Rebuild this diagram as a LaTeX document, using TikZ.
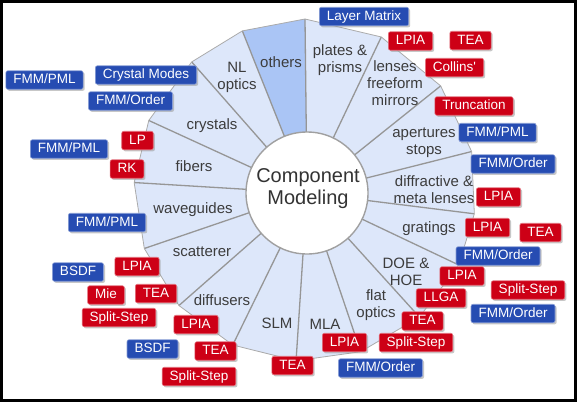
\documentclass[tikz,border=0pt]{standalone}
\usepackage{fontspec}
\setmainfont{Liberation Sans}
\usetikzlibrary{shadows}
\definecolor{sect}{RGB}{221,231,250}
\definecolor{sectdark}{RGB}{170,197,245}
\definecolor{spokecol}{RGB}{150,150,150}
\definecolor{bblue}{RGB}{38,76,178}
\definecolor{bred}{RGB}{205,0,22}
\definecolor{lbl}{RGB}{60,60,60}
\tikzset{
  tag/.style={rounded corners=2pt, inner xsep=7.5pt, inner ysep=0pt,
    minimum height=18.5pt, text height=10pt, text depth=2.6pt, text=white,
    line width=0.6pt, font=\fontsize{13.5}{14}\selectfont,
    drop shadow={shadow xshift=1.6pt, shadow yshift=-1.6pt, fill=black!40, opacity=0.55}},
  bluetag/.style={tag, fill=bblue, draw=bblue!55!white},
  redtag/.style={tag, fill=bred, draw=bred!55!white},
  sectlabel/.style={text=lbl, font=\fontsize{15}{17}\selectfont, align=center, inner sep=0pt},
  spokeline/.style={draw=spokecol, line width=1.3pt},
}
\begin{document}
\begin{tikzpicture}[x=1pt, y=-1pt]
\useasboundingbox (0,0) rectangle (577,402);
\fill[white] (0,0) rectangle (577,402);
% wheel
\begin{scope}[shift={(305,190)}, yscale=-1]
  \fill[sect] (90:171) -- (63.5:171) -- (37.5:171) -- (13:171) -- (-8:171) -- (-26:171) -- (-48:171) -- (-71:171) -- (-93:171) -- (-115:171) -- (-137.5:171) -- (-160:171) -- (177.5:171) -- (156:171) -- (131.5:171) -- (111.5:171) -- cycle;
  \fill[sectdark] (2,-3) -- (111.5:171) -- (90:171) -- cycle;
  \foreach \a in {90,63.5,37.5,13,-8,-26,-48,-71,-93,-115,-137.5,-160,177.5,156,131.5,111.5}
    \draw[spokeline] (2,-3) -- (\a:171);
  \draw[spokecol!80, line width=0.8pt] (90:171) -- (63.5:171) -- (37.5:171) -- (13:171) -- (-8:171) -- (-26:171) -- (-48:171) -- (-71:171) -- (-93:171) -- (-115:171) -- (-137.5:171) -- (-160:171) -- (177.5:171) -- (156:171) -- (131.5:171) -- (111.5:171) -- cycle;
\end{scope}
\node[circle, fill=white, draw=spokecol!90, line width=1.4pt, minimum size=122pt, inner sep=0pt] (hub) at (307,193) {};
\node[text=black!80, font=\fontsize{20}{22}\selectfont, align=center, inner sep=0pt] (title) at (308,189) {Component\\Modeling};
% sector labels
\node[sectlabel] (others) at (281,62) {others};
\node[sectlabel] (nl) at (237,77) {NL\\optics};
\node[sectlabel] (crystals) at (212,126) {crystals};
\node[sectlabel] (fibers) at (194,166) {fibers};
\node[sectlabel] (waveguides) at (193,210) {waveguides};
\node[sectlabel] (scatterer) at (202,252) {scatterer};
\node[sectlabel] (diffusers) at (222,300) {diffusers};
\node[sectlabel] (slm) at (277,323) {SLM};
\node[sectlabel] (mla) at (325,324) {MLA};
\node[sectlabel] (flat) at (376,305) {flat\\optics};
\node[sectlabel] (doe) at (406,272) {DOE \&\\HOE};
\node[sectlabel] (gratings) at (429,229) {gratings};
\node[sectlabel] (diffr) at (434,190) {diffractive \&\\meta lenses};
\node[sectlabel] (apert) at (424,143) {apertures\\stops};
\node[sectlabel] (lenses) at (395,83) {lenses\\freeform\\mirrors};
\node[sectlabel] (plates) at (340,60) {plates \&\\prisms};
% blue tags
\node[bluetag] (b1) at (44.5,80) {FMM/PML};
\node[bluetag] (b2) at (146,75) {Crystal Modes};
\node[bluetag] (b3) at (130.5,101) {FMM/Order};
\node[bluetag] (b4) at (69,149) {FMM/PML};
\node[bluetag] (b5) at (364,16.5) {Layer Matrix};
\node[bluetag] (b6) at (497.5,132.5) {FMM/PML};
\node[bluetag] (b7) at (513,164) {FMM/Order};
\node[bluetag] (b8) at (498,256) {FMM/Order};
\node[bluetag] (b9) at (513,313.5) {FMM/Order};
\node[bluetag] (b10) at (380.5,368) {FMM/Order};
\node[bluetag] (b11) at (107,222.5) {FMM/PML};
\node[bluetag] (b12) at (78,272) {BSDF};
\node[bluetag] (b13) at (152.5,349) {BSDF};
% red tags
\node[redtag] (r1) at (137.5,140.5) {LP};
\node[redtag] (r2) at (127,169) {RK};
\node[redtag] (r3) at (410.5,41) {LPIA};
\node[redtag] (r4) at (470.5,40.5) {TEA};
\node[redtag] (r5) at (454.5,67.5) {Collins\textquotesingle};
\node[redtag] (r6) at (474,106) {Truncation};
\node[redtag] (r7) at (498.5,197) {LPIA};
\node[redtag] (r8) at (487.5,227.5) {LPIA};
\node[redtag] (r9) at (540.5,232.5) {TEA};
\node[redtag] (r10) at (462,276) {LPIA};
\node[redtag] (r11) at (528,290) {Split-Step};
\node[redtag] (r12) at (441,298) {LLGA};
\node[redtag] (r13) at (422.5,321) {TEA};
\node[redtag] (r14) at (344.5,342.5) {LPIA};
\node[redtag] (r15) at (416,342.5) {Split-Step};
\node[redtag] (r16) at (292.5,365.5) {TEA};
\node[redtag] (r17) at (137,266.5) {LPIA};
\node[redtag] (r18) at (106,295) {Mie};
\node[redtag] (r19) at (156,293.5) {TEA};
\node[redtag] (r20) at (119,317.5) {Split-Step};
\node[redtag] (r21) at (196,324.5) {LPIA};
\node[redtag] (r22) at (215.5,351) {TEA};
\node[redtag] (r23) at (199,376.5) {Split-Step};
% frame
\draw[black, line width=3pt] (1.5,1.5) rectangle (575,400);
\end{tikzpicture}
\end{document}
